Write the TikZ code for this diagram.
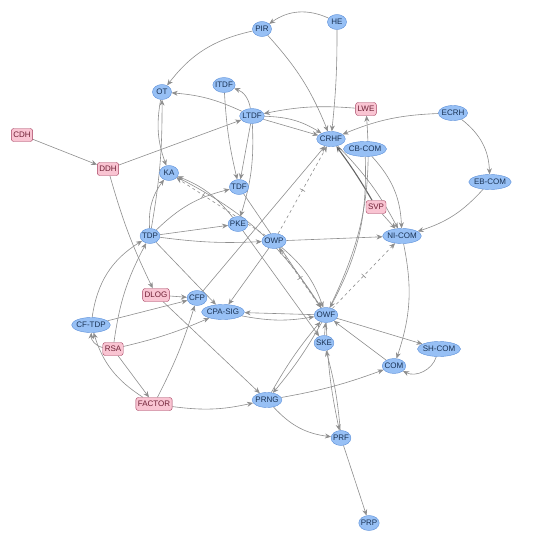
\documentclass[tikz,border=0pt]{standalone}
\usepackage{fontspec}
\setmainfont{Liberation Sans}
\usepackage{xcolor}
\usepackage{tikz}
\usetikzlibrary{arrows.meta, shapes.geometric, backgrounds}

\definecolor{primfill}{HTML}{97C0F5}
\definecolor{primline}{HTML}{5B8FD9}
\definecolor{primtext}{HTML}{1A3355}
\definecolor{assfill}{HTML}{F9C4D2}
\definecolor{assline}{HTML}{A33D5C}
\definecolor{asstext}{HTML}{6E2035}
\definecolor{edgegray}{HTML}{8E8E8E}

\begin{document}
\begin{tikzpicture}[x=1pt, y=-1pt, >={Stealth[length=6pt,width=5pt]},
    prim/.style={ellipse, draw=primline, fill=primfill, text=primtext, inner xsep=-1pt, inner ysep=0pt,
        minimum height=15pt, minimum width=19pt, font=\fontsize{8}{9}\selectfont},
    assum/.style={rectangle, rounded corners=2.5pt, draw=assline, fill=assfill, text=asstext, inner xsep=2pt,
        inner ysep=0pt, minimum height=13pt, font=\fontsize{8}{9}\selectfont},
    imp/.style={->, draw=edgegray, line width=0.6pt},
    sep/.style={imp, dashed},
    sepmark/.style={sloped, draw=edgegray, minimum width=0pt, minimum height=6pt, inner sep=0pt}]
    \useasboundingbox (0,0) rectangle (540,546);

    % assumptions and primitives
    \node[assum] (CDH) at (22,135) {CDH};
    \node[assum] (DDH) at (108,169) {DDH};
    \node[prim] (OT) at (162,92) {OT};
    \node[prim] (KA) at (169,173) {KA};
    \node[prim] (PIR) at (262,29) {PIR};
    \node[prim] (HE) at (337,22) {HE};
    \node[prim] (ITDF) at (224,85) {ITDF};
    \node[prim] (LTDF) at (252,116) {LTDF};
    \node[prim] (CRHF) at (331,139) {CRHF};
    \node[prim] (TDF) at (239,187) {TDF};
    \node[assum] (LWE) at (366,109) {LWE};
    \node[prim] (ECRH) at (453,113) {ECRH};
    \node[prim] (CBCOM) at (365,149) {CB-COM};
    \node[prim] (EBCOM) at (490,182) {EB-COM};
    \node[prim] (TDP) at (150,236) {TDP};
    \node[assum] (DLOG) at (156,295) {DLOG};
    \node[prim] (CFTDP) at (91,325) {CF-TDP};
    \node[assum] (RSA) at (113,349) {RSA};
    \node[prim] (CFP) at (197,298) {CFP};
    \node[prim] (CPASIG) at (223,312) {CPA-SIG};
    \node[prim] (PKE) at (238,224) {PKE};
    \node[prim] (OWP) at (274,241) {OWP};
    \node[prim] (OWF) at (326,315) {OWF};
    \node[prim] (SKE) at (324,343) {SKE};
    \node[assum] (SVP) at (376,207) {SVP};
    \node[prim] (NICOM) at (402,236) {NI-COM};
    \node[prim] (SHCOM) at (439,349) {SH-COM};
    \node[prim] (COM) at (394,366) {COM};
    \node[assum] (FACTOR) at (154,404) {FACTOR};
    \node[prim] (PRNG) at (267,400) {PRNG};
    \node[prim] (PRF) at (341,438) {PRF};
    \node[prim] (PRP) at (369,523) {PRP};

    \begin{scope}[on background layer]
    % implications
    \draw[imp] (HE) to[bend right=30] (PIR);
    \draw[imp] (HE) to[bend left=3] (CRHF);
    \draw[imp] (PIR) to[bend right=20] (OT);
    \draw[imp] (PIR) to[bend left=10] (CRHF);
    \draw[imp] (LTDF) to[bend right=10] (OT);
    \draw[imp] (LTDF) to[bend right=30] (ITDF);
    \draw[imp] (ITDF) to[bend right=5] (TDF);
    \draw[imp] (LTDF) -- (TDF);
    \draw[imp] (LTDF) to[bend left=10] (PKE);
    \draw[imp] (LTDF) to[bend left=15] (CRHF);
    \draw[imp] (LTDF) -- (CRHF);
    \draw[imp] (LWE) to[bend right=8] (LTDF);
    \draw[imp] (ECRH) to[bend right=10] (CRHF);
    \draw[imp] (ECRH) to[bend left=25] (EBCOM);
    \draw[imp] (EBCOM) to[bend left=15] (NICOM);
    \draw[imp] (CBCOM) to[bend left=20] (NICOM);
    \draw[imp] (CRHF) to[bend left=8] (NICOM);
    \draw[imp, line width=1.1pt, draw=edgegray!70!black] (SVP) to[bend right=3] (CRHF);
    \draw[imp] (SVP) -- (NICOM);
    \draw[imp] (CBCOM) to[bend left=15] (OWF);
    \draw[imp] (OWF) to[bend right=15] (LWE);
    \draw[imp] (NICOM) to[bend left=15] (COM);
    \draw[imp] (OWP) -- (NICOM);
    \draw[imp] (TDP) to[bend right=5] (OWP);
    \draw[imp] (TDP) -- (PKE);
    \draw[imp] (TDP) to[bend left=15] (TDF);
    \draw[imp] (TDP) to[bend left=20] (KA);
    \draw[imp] (TDP) to[bend right=5] (OT);
    \draw[imp] (OT) to[bend right=15] (KA);
    \draw[imp] (PKE) to[bend right=15] (KA);
    \draw[imp] (KA) to[bend left=15] (OWF);
    \draw[imp] (TDF) -- (OWF);
    \draw[imp] (PKE) -- (SKE);
    \draw[imp] (OWP) to[bend left=15] (OWF);
    \draw[imp] (OWP) -- (CPASIG);
    \draw[imp] (OWF) -- (CPASIG);
    \draw[imp] (CPASIG) to[bend right=10] (OWF);
    \draw[imp] (CFP) -- (CRHF);
    \draw[imp] (OWF) -- (SHCOM);
    \draw[imp] (SHCOM) to[bend left=50] (COM);
    \draw[imp] (COM) -- (OWF);
    \draw[imp] (SKE) -- (OWF);
    \draw[imp] (OWF) to[bend right=5] (PRF);
    \draw[imp] (PRF) to[bend right=5] (SKE);
    \draw[imp] (OWF) to[bend left=5] (PRNG);
    \draw[imp] (PRNG) to[bend left=5] (OWF);
    \draw[imp] (PRNG) to[bend right=20] (PRF);
    \draw[imp] (PRF) -- (PRP);
    \draw[imp] (PRNG) to[bend right=5] (COM);
    \draw[imp] (FACTOR) to[bend right=10] (PRNG);
    \draw[imp] (DLOG) -- (PRNG);
    \draw[imp] (FACTOR) to[bend right=5] (CFP);
    \draw[imp] (RSA) -- (FACTOR);
    \draw[imp] (RSA) to[bend left=40] (CFTDP);
    \draw[imp] (FACTOR) to[bend left=20] (CFTDP);
    \draw[imp] (RSA) to[bend left=10] (TDP);
    \draw[imp] (RSA) to[bend right=5] (CPASIG);
    \draw[imp] (CFTDP) to[bend left=25] (TDP);
    \draw[imp] (CFTDP) -- (CFP);
    \draw[imp] (DLOG) -- (CFP);
    \draw[imp] (TDP) -- (CPASIG);
    \draw[imp] (DDH) -- (LTDF);
    \draw[imp] (DDH) to[bend right=5] (DLOG);
    \draw[imp] (CDH) -- (DDH);
    % separations
    \draw[sep] (OWF) -- node[sepmark] {} (NICOM);
    \draw[sep] (OWF) -- node[sepmark] {} (OWP);
    \draw[sep] (OWP) -- node[sepmark] {} (CRHF);
    \draw[sep] (OWP) -- node[sepmark, pos=0.7] {} (KA);
    \end{scope}
\end{tikzpicture}
\end{document}
